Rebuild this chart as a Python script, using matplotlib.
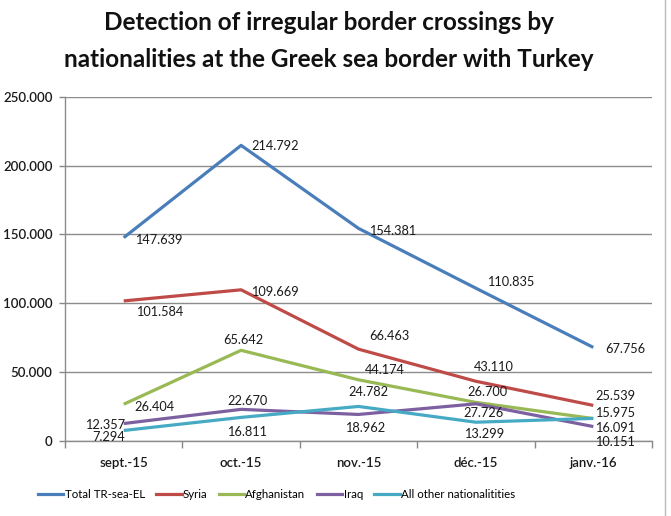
import matplotlib
matplotlib.use("Agg")
import matplotlib.pyplot as plt
from matplotlib.lines import Line2D

plt.rcParams['font.family'] = ['Lato', 'DejaVu Sans']

months = ["sept.-15", "oct.-15", "nov.-15", "déc.-15", "janv.-16"]
series_names = ["Total TR-sea-EL", "Syria", "Afghanistan", "Iraq", "All other nationalitities"]
total = [147639, 214792, 154381, 110835, 67756]
syria = [101584, 109669, 66463, 43110, 25539]
afghanistan = [26404, 65642, 44174, 27726, 15975]
iraq = [12357, 22670, 18962, 26700, 10151]
others = [7294, 16811, 24782, 13299, 16091]
yticks = [0, 50000, 100000, 150000, 200000, 250000]
ytick_labels = ["0", "50.000", "100.000", "150.000", "200.000", "250.000"]

series = [total, syria, afghanistan, iraq, others]
colors = ["#4A7EBB", "#BE4B48", "#98B954", "#7D60A0", "#46AAC5"]

# label offsets in pixels (dx, dy) of label centre relative to point
offsets = [
    [(35, -2), (34, -1), (34, -3), (35, 6), (32, -2)],
    [(36, -11), (34, -2), (31, 13), (18, 14), (22, 9)],
    [(31, -3), (2, 10), (26, 10), (8, -11), (22, 6)],
    [(-19, -1), (6, 8), (7, -14), (12, 12), (22, -15)],
    [(-15, -7), (6, -15), (10, 14), (8, -12), (22, -10)],
]

def fmt(v):
    return f"{v:,}".replace(",", ".")

fig = plt.figure(figsize=(6.71, 5.16), dpi=100)
ax = fig.add_axes([65/671, 75.5/516, 587/671, (440.5-97)/516])

x = list(range(len(months)))
for vals, col, offs in zip(series, colors, offsets):
    ax.plot(x, vals, color=col, lw=2.3, solid_capstyle='butt', zorder=3)
    for xi, v, (dx, dy) in zip(x, vals, offs):
        ax.annotate(fmt(v), (xi, v), xytext=(dx, dy), textcoords='offset pixels',
                    ha='center', va='center', fontsize=9.2, color='#1a1a1a', zorder=4)

ax.set_xlim(-0.5, len(months) - 0.5)
ax.set_ylim(0, 250000)
ax.set_yticks(yticks)
ax.set_yticklabels(ytick_labels)
ax.set_xticks(x)
ax.set_xticklabels(months)
ax.set_xticks([i - 0.5 for i in range(len(months) + 1)], minor=True)
ax.tick_params(axis='x', which='major', length=0, pad=12, labelsize=9.5, labelcolor='#1a1a1a')
ax.tick_params(axis='x', which='minor', length=5, color='#888888', width=1)
ax.tick_params(axis='y', length=4, color='#888888', width=1, labelsize=9.5, labelcolor='#1a1a1a', pad=5)
for lab in ax.get_xticklabels() + ax.get_yticklabels():
    lab.set_fontweight('semibold')

ax.grid(axis='y', color='#8c8c8c', lw=1, zorder=1)
for s in ['top', 'right']:
    ax.spines[s].set_visible(False)
for s in ['left', 'bottom']:
    ax.spines[s].set_color('#8c8c8c')
    ax.spines[s].set_linewidth(1)

fig.text(0.49, 1 - 41/516, "Detection of irregular border crossings by\nnationalities at the Greek sea border with Turkey",
         ha='center', va='center', fontsize=17.5, fontweight='bold', linespacing=1.7, color='#111111')

handles = [Line2D([0], [0], color=c, lw=2.3) for c in colors]
fig.legend(handles, series_names, loc='center left', bbox_to_anchor=(38/671, 1 - 495/516),
           ncol=5, frameon=False, fontsize=8.3, handlelength=2.2, handletextpad=0.1,
           columnspacing=1.0, borderaxespad=0, borderpad=0)

fig.add_artist(Line2D([665/671, 665/671], [0, 1], color='#bbbbbb', lw=1, transform=fig.transFigure))

fig.savefig("out.png", dpi=100)
